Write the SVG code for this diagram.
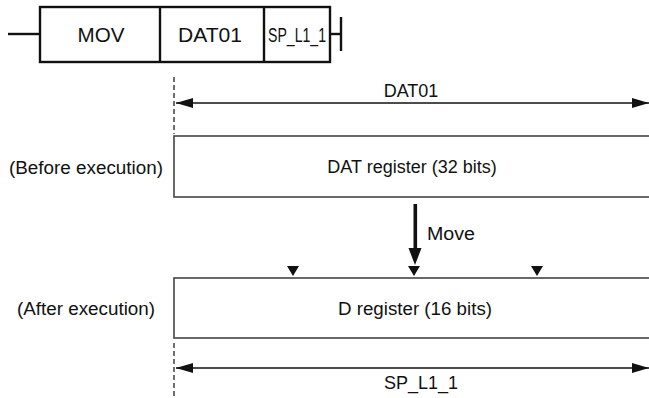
<svg xmlns="http://www.w3.org/2000/svg" width="649" height="398" viewBox="0 0 649 398">
<defs>
<style>
text{font-family:"Liberation Sans",Arial,sans-serif;font-size:18px;fill:#111;}
.c{text-anchor:middle;}
.big{font-size:20px;}
.thick{fill:none;stroke:#111;stroke-width:2.4;}
.reg{fill:#fff;stroke:#444;stroke-width:1.6;}
.dash{stroke:#222;stroke-width:1.3;stroke-dasharray:5 3;fill:none;}
.dim{stroke:#111;stroke-width:1.3;fill:none;}
.tri{fill:#111;}
</style>
<marker id="ah" viewBox="0 0 17 10" refX="17" refY="5" markerWidth="17" markerHeight="10" markerUnits="userSpaceOnUse" orient="auto-start-reverse">
<path d="M0,0 L17,5 L0,10 Z" fill="#111"/>
</marker>
</defs>
<rect width="649" height="398" fill="#fff"/>
<g id="instruction">
<line x1="8" y1="34" x2="40" y2="34" class="thick"/>
<rect x="40" y="7" width="290" height="55" class="thick"/>
<line x1="160" y1="7" x2="160" y2="62" class="thick"/>
<line x1="264" y1="7" x2="264" y2="62" class="thick"/>
<line x1="330" y1="34" x2="341" y2="34" class="thick"/>
<line x1="341" y1="17" x2="341" y2="51" class="thick"/>
<text x="101" y="42" class="c big" textLength="47" lengthAdjust="spacingAndGlyphs">MOV</text>
<text x="210" y="42" class="c big" textLength="64" lengthAdjust="spacingAndGlyphs">DAT01</text>
<text x="297" y="42" class="c big" textLength="58" lengthAdjust="spacingAndGlyphs">SP_L1_1</text>
</g>
<g id="dat-register">
<rect x="174" y="136" width="490" height="61" class="reg"/>
<text x="412" y="173" class="c">DAT register (32 bits)</text>
</g>
<g id="d-register">
<rect x="174" y="278" width="490" height="60" class="reg"/>
<text x="415" y="315" class="c" textLength="154" lengthAdjust="spacingAndGlyphs">D register (16 bits)</text>
</g>
<g id="labels">
<text x="86" y="174" class="c" textLength="154" lengthAdjust="spacingAndGlyphs">(Before execution)</text>
<text x="86" y="315" class="c" textLength="138" lengthAdjust="spacingAndGlyphs">(After execution)</text>
<text x="411" y="97" class="c">DAT01</text>
<text x="421" y="389" class="c">SP_L1_1</text>
<text x="427" y="240" textLength="48" lengthAdjust="spacingAndGlyphs">Move</text>
</g>
<g id="connectors">
<line x1="174" y1="77" x2="174" y2="134" class="dash"/>
<line x1="174" y1="343" x2="174" y2="398" class="dash"/>
<line x1="176" y1="103" x2="649" y2="103" class="dim" marker-start="url(#ah)" marker-end="url(#ah)"/>
<line x1="176" y1="368" x2="649" y2="368" class="dim" marker-start="url(#ah)" marker-end="url(#ah)"/>
<rect x="413.5" y="204" width="3.6" height="46" fill="#111"/>
<path d="M408.5,248 L421.5,248 L415,265 Z" fill="#111"/>
<path class="tri" d="M287,266 L299,266 L293,276 Z"/>
<path class="tri" d="M408,266 L420,266 L414,276 Z"/>
<path class="tri" d="M531,266 L543,266 L537,276 Z"/>
</g>
</svg>
